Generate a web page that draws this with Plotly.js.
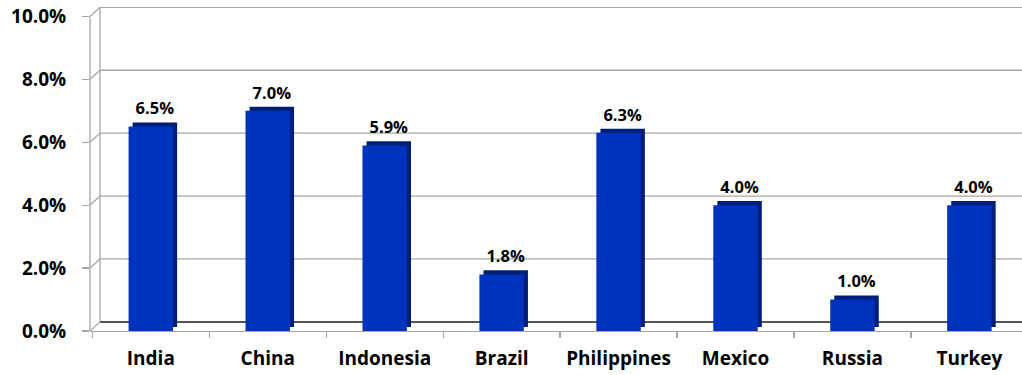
<!DOCTYPE html>
<html><head><meta charset="utf-8">
<script src="https://cdn.plot.ly/plotly-3.0.1.min.js"></script>
<style>body{margin:0;background:#fff}#c{width:1022px;height:375px}</style>
</head><body><div id="c"></div>
<script>
var categories = ['India','China','Indonesia','Brazil','Philippines','Mexico','Russia','Turkey'];
var growth = [6.5, 7.0, 5.9, 1.8, 6.3, 4.0, 1.0, 4.0];
var tickVals = [0, 2, 4, 6, 8, 10];
var tickText = ['0.0%','2.0%','4.0%','6.0%','8.0%','10.0%'];

var FONT = '"Open Sans", Lato, sans-serif';
var depthY = 0.29;      // back-wall offset in y units (~9px)
var depthXp = 10/932;   // back-wall offset in paper units (~10px)
var barW = 0.38, sideX = 0.035, sideY = 0.13;

var labels = growth.map(function(v){ return v.toFixed(1) + '%'; });

var back = {
  type: 'bar', x: categories, y: growth,
  base: growth.map(function(){ return sideY; }),
  width: barW, offset: -barW/2 + sideX,
  marker: {color: '#001d78', line: {width: 0}},
  text: labels, textposition: 'outside', cliponaxis: false,
  textfont: {family: FONT, size: 16.5, color: '#000', weight: 'bold'},
  hoverinfo: 'skip', showlegend: false
};
var front = {
  type: 'bar', x: categories, y: growth,
  width: barW, offset: -barW/2,
  marker: {color: '#0033bb', line: {width: 0}},
  textposition: 'none',
  hoverinfo: 'skip', showlegend: false
};

var shapes = [];
tickVals.forEach(function(t){
  shapes.push({type:'line', xref:'paper', yref:'y', x0:depthXp, x1:1, y0:t+depthY, y1:t+depthY,
    line:{color: t===0 ? '#555555' : '#a6a6a6', width: t===0 ? 2 : 1.3}, layer:'below'});
  shapes.push({type:'line', xref:'paper', yref:'y', x0:0, x1:depthXp, y0:t, y1:t+depthY,
    line:{color:'#a6a6a6', width:1.3}, layer:'below'});
});
// back wall left edge
shapes.push({type:'line', xref:'paper', yref:'y', x0:depthXp, x1:depthXp, y0:depthY, y1:tickVals[tickVals.length-1]+depthY,
  line:{color:'#a6a6a6', width:1.3}, layer:'below'});
// front y axis line
shapes.push({type:'line', xref:'paper', yref:'y', x0:0, x1:0, y0:0, y1:tickVals[tickVals.length-1],
  line:{color:'#a6a6a6', width:1.3}, layer:'below'});

var layout = {
  width: 1022, height: 375,
  margin: {l: 90, r: 0, t: 7, b: 44},
  paper_bgcolor: '#ffffff', plot_bgcolor: '#ffffff',
  barmode: 'overlay',
  showlegend: false,
  xaxis: {
    type: 'category', range: [-0.52, 7.45],
    showgrid: false, zeroline: false,
    showline: true, linecolor: '#a6a6a6', linewidth: 1.3,
    ticks: 'outside', ticklen: 6, tickcolor: '#a6a6a6', tickwidth: 1.3,
    tickson: 'boundaries',
    ticklabelstandoff: 10,
    tickfont: {family: FONT, size: 19, color: '#000', weight: 'bold'}
  },
  yaxis: {
    range: [0, 10.3],
    tickvals: tickVals, ticktext: tickText,
    showgrid: false, zeroline: false, showline: false,
    ticks: 'outside', ticklen: 7, tickcolor: '#a6a6a6', tickwidth: 1.3,
    ticklabelstandoff: 12,
    tickfont: {family: FONT, size: 19, color: '#000', weight: 'bold'}
  },
  shapes: shapes
};

Plotly.newPlot('c', [back, front], layout, {staticPlot: true, displayModeBar: false});
</script></body></html>
